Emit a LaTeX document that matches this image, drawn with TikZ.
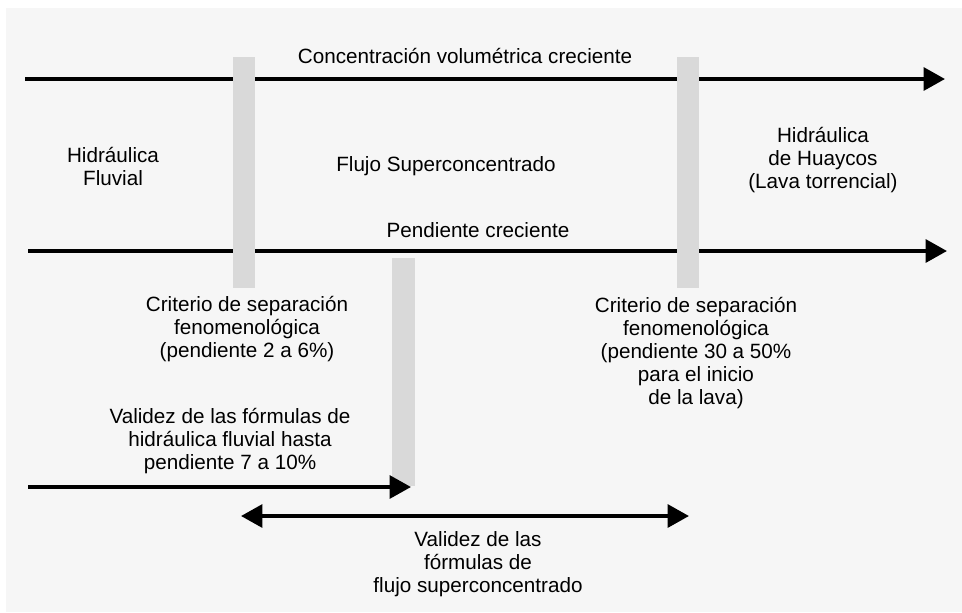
\documentclass[tikz,border=0pt]{standalone}
\usepackage{fontspec}
\setmainfont{Liberation Sans}
\usetikzlibrary{arrows.meta}
\definecolor{bgcol}{HTML}{F6F6F6}
\definecolor{barcol}{HTML}{D9D9D9}

\begin{document}
\begin{tikzpicture}[x=0.75pt,y=-0.75pt,
  txt/.style={align=center,inner sep=0pt,font=\fontsize{15.5}{17.25}\selectfont},
  axis/.style={line width=3pt,-{Triangle[length=16pt,width=17pt]}},
  validity/.style={line width=3pt,{Triangle[length=16pt,width=17pt]}-{Triangle[length=16pt,width=17pt]}}]

% Background
\useasboundingbox (0,0) rectangle (962,612);
\fill[bgcol] (6,8) rectangle (962,612);

% Arrow ends
\coordinate (conc0) at (25,79);
\coordinate (conc1) at (945,79);
\coordinate (pend0) at (28,251);
\coordinate (pend1) at (947,251);
\coordinate (fluv0) at (28,487);
\coordinate (fluv1) at (411,487);
\coordinate (sup0) at (241,516);
\coordinate (sup1) at (689,516);

% Increasing axes
\draw[axis] (conc0) -- (conc1);
\draw[axis] (pend0) -- (pend1);

% Separation bars
\fill[barcol] (233,57) rectangle (255,288);
\fill[barcol] (677,57) rectangle (699,288);
\fill[barcol] (392,258) rectangle (415,486);

% Validity ranges
\draw[axis] (fluv0) -- (fluv1);
\draw[validity] (sup0) -- (sup1);

% Labels
\node[txt] (conc) at (465,56) {Concentración volumétrica creciente};
\node[txt] (hfluv) at (113,166) {Hidráulica\\Fluvial};
\node[txt] (fsup) at (446,166) {Flujo Superconcentrado};
\node[txt] (hhuay) at (823,160) {Hidráulica\\de Huaycos\\(Lava torrencial)};
\node[txt] (pend) at (478,230) {Pendiente creciente};
\node[txt] (crit1) at (247,329) {Criterio de separación\\fenomenológica\\(pendiente 2 a 6\%)};
\node[txt] (crit2) at (696,353) {Criterio de separación\\fenomenológica\\(pendiente 30 a 50\%\\para el inicio\\de la lava)};
\node[txt] (val1) at (230,441) {Validez de las fórmulas de\\hidráulica fluvial hasta\\pendiente 7 a 10\%};
\node[txt] (val2) at (478,564) {Validez de las\\fórmulas de\\flujo superconcentrado};

\end{tikzpicture}
\end{document}
